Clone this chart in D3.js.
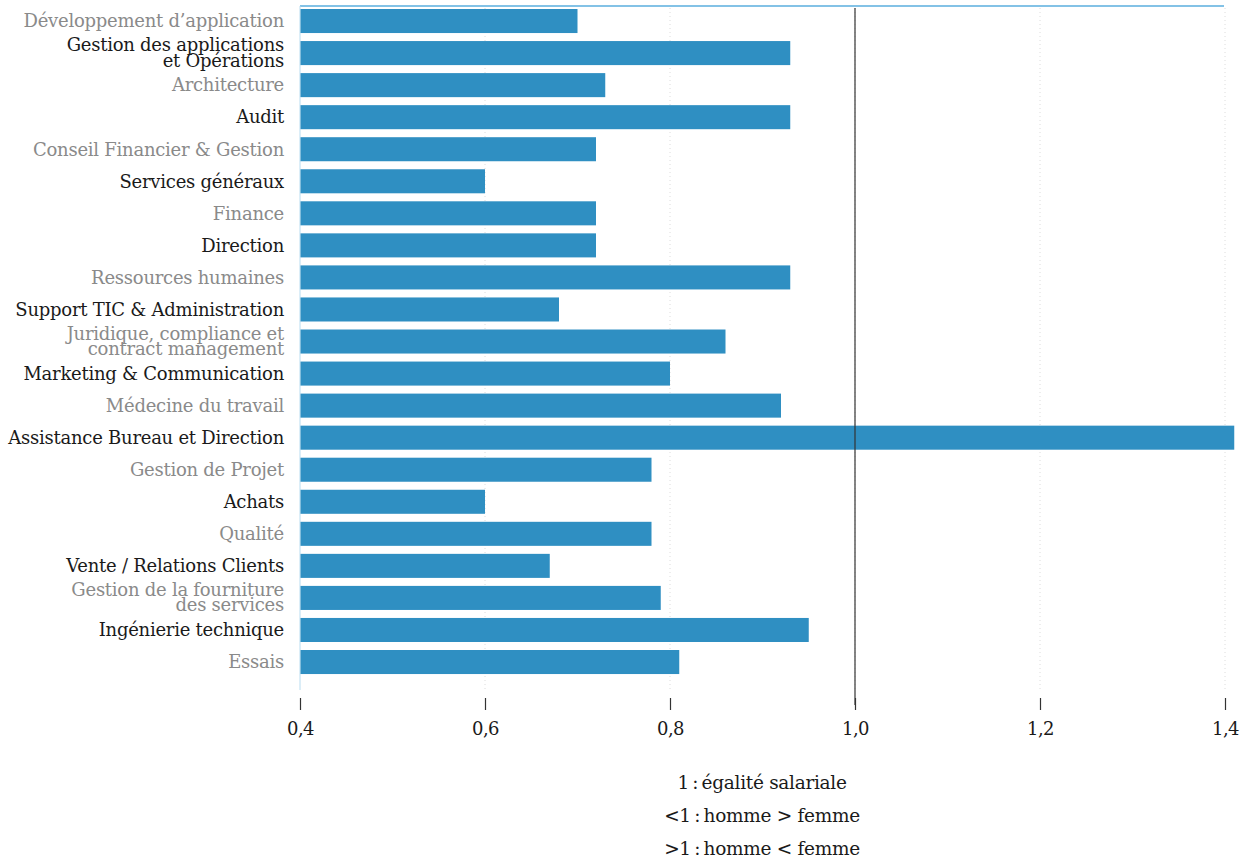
<!DOCTYPE html>
<html>
<head>
<meta charset="utf-8">
<script src="https://cdn.jsdelivr.net/npm/d3@7"></script>
<style>
  body { margin: 0; background: #fff; }
  text { font-family: "DejaVu Serif", "Liberation Serif", serif; }
</style>
</head>
<body>
<script>
// Catégories et rapports salaire femme / homme
const categories = [
  "Développement d’application",
  "Gestion des applications|et Opérations",
  "Architecture",
  "Audit",
  "Conseil Financier & Gestion",
  "Services généraux",
  "Finance",
  "Direction",
  "Ressources humaines",
  "Support TIC & Administration",
  "Juridique, compliance et|contract management",
  "Marketing & Communication",
  "Médecine du travail",
  "Assistance Bureau et Direction",
  "Gestion  de Projet",
  "Achats",
  "Qualité",
  "Vente / Relations Clients",
  "Gestion de la fourniture|des services",
  "Ingénierie technique",
  "Essais"
];
const values = [0.70, 0.93, 0.73, 0.93, 0.72, 0.60, 0.72, 0.72, 0.93, 0.68, 0.86,
                0.80, 0.92, 1.41, 0.78, 0.60, 0.78, 0.67, 0.79, 0.95, 0.81];
const xTicks = [0.4, 0.6, 0.8, 1.0, 1.2, 1.4];
const notes = ["1\u2009:\u2009égalité salariale", "<1\u2009:\u2009homme > femme", ">1\u2009:\u2009homme < femme"];

const WIDTH = 1245, HEIGHT = 861;
const margin = {top: 6, right: 11, bottom: 180, left: 300};

const data = categories.map((c, i) => ({cat: c, value: values[i], i: i}));

const svg = d3.select("body").append("svg")
    .attr("width", WIDTH)
    .attr("height", HEIGHT);

const xScale = d3.scaleLinear()
    .domain([0.4, 1.4])
    .range([margin.left, 1225]);

const yScale = d3.scaleBand()
    .domain(data.map(d => d.i))
    .range([5, 5 + 32.05 * categories.length])
    .paddingInner(0.25)
    .paddingOuter(0.125);

// quadrillage pointillé
svg.append("g")
    .selectAll("line")
    .data(xTicks.slice(1))
    .enter().append("line")
        .attr("x1", d => xScale(d))
        .attr("x2", d => xScale(d))
        .attr("y1", 8)
        .attr("y2", 690)
        .attr("stroke", "#dcdcdc")
        .attr("stroke-dasharray", "1,3");

// bord supérieur et axe gauche
svg.append("line")
    .attr("x1", margin.left).attr("x2", xScale(1.4) - 1)
    .attr("y1", 6).attr("y2", 6)
    .attr("stroke", "#5aaede").attr("stroke-width", 1.5);
svg.append("line")
    .attr("x1", margin.left).attr("x2", margin.left)
    .attr("y1", 6).attr("y2", 690)
    .attr("stroke", "#b8dcf0").attr("stroke-width", 1);

// barres
svg.append("g")
    .selectAll("rect")
    .data(data)
    .enter().append("rect")
        .attr("x", xScale(0.4) + 0.5)
        .attr("y", d => yScale(d.i))
        .attr("width", d => xScale(d.value) - xScale(0.4) - 0.5)
        .attr("height", yScale.bandwidth())
        .attr("fill", "#2f8fc2");

// ligne de référence 1,0
svg.append("line")
    .attr("x1", xScale(1.0)).attr("x2", xScale(1.0))
    .attr("y1", 8).attr("y2", 705)
    .attr("stroke", "#333").attr("stroke-width", 1.2);

// libellés des catégories
const labels = svg.append("g")
    .selectAll("text")
    .data(data)
    .enter().append("text")
        .attr("x", 284)
        .attr("y", d => yScale(d.i) + yScale.bandwidth() / 2)
        .attr("text-anchor", "end")
        .attr("font-size", 18)
        .attr("letter-spacing", -0.25)
        .attr("fill", d => d.i % 2 === 0 ? "#8a8a8a" : "#1a1a1a");

labels.each(function(d) {
    const parts = d.cat.split("|");
    const t = d3.select(this);
    if (parts.length === 1) {
        t.append("tspan").attr("x", 284).attr("dy", "0.35em").text(parts[0]);
    } else {
        t.append("tspan").attr("x", 284).attr("dy", "-0.1em").text(parts[0]);
        t.append("tspan").attr("x", 284).attr("dy", "0.85em").text(parts[1]);
    }
});

// axe X
const xAxis = svg.append("g")
    .attr("transform", "translate(0,698)")
    .call(d3.axisBottom(xScale)
        .tickValues(xTicks)
        .tickSize(12)
        .tickFormat(d => d3.format(".1f")(d).replace(".", ",")));
xAxis.select(".domain").remove();
xAxis.selectAll(".tick line").attr("stroke", "#333").attr("stroke-width", 1.2);
xAxis.selectAll(".tick text")
    .attr("y", 24)
    .attr("font-size", 18)
    .attr("letter-spacing", -0.5)
    .attr("fill", "#1a1a1a")
    .style("font-family", "'DejaVu Serif', serif");

// légende
svg.append("g")
    .selectAll("text")
    .data(notes)
    .enter().append("text")
        .attr("x", 762)
        .attr("y", (d, i) => 789 + i * 33)
        .attr("text-anchor", "middle")
        .attr("font-size", 18.5)
        .attr("letter-spacing", -0.3)
        .attr("fill", "#1a1a1a")
        .text(d => d);
</script>
</body>
</html>
